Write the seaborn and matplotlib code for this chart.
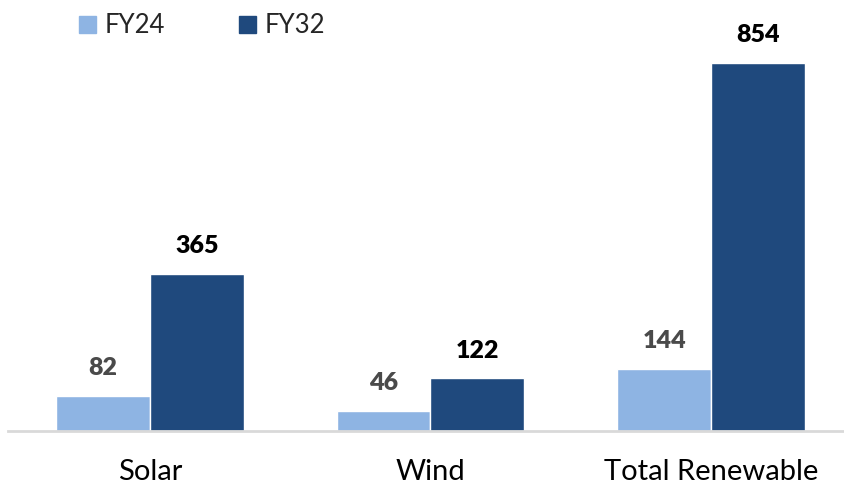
import matplotlib
matplotlib.use("Agg")
import matplotlib.pyplot as plt
import seaborn as sns
import pandas as pd
from matplotlib.patches import Patch

categories = ["Solar", "Wind", "Total Renewable"]
fy24 = [82, 46, 144]
fy32 = [365, 122, 854]
series = ["FY24", "FY32"]
colors = ["#8EB4E3", "#1F497D"]

df = pd.DataFrame({
    "cat": categories * 2,
    "val": fy24 + fy32,
    "series": ["FY24"] * 3 + ["FY32"] * 3,
})

sns.set_theme(style="white")
plt.rcParams["font.family"] = ["Lato", "DejaVu Sans"]

fig = plt.figure(figsize=(8.44, 4.86), dpi=100)
ax = fig.add_axes([8 / 844, 1 - 431 / 486, 1 - 8 / 844, 431 / 486])
sns.barplot(data=df, x="cat", y="val", hue="series", palette=colors,
            width=0.667, saturation=1, ax=ax, legend=False, gap=0)
ax.set_xlim(-0.506, 2.474)
ax.set_ylim(0, 1000)
for s in ["top", "right", "left"]:
    ax.spines[s].set_visible(False)
ax.spines["bottom"].set_color("#d9d9d9")
ax.spines["bottom"].set_linewidth(2)
ax.set_yticks([])
ax.set_xlabel("")
ax.set_ylabel("")
ax.tick_params(axis="x", length=0, labelsize=21, pad=20, colors="black")

label_colors = ["#4a4a4a", "black"]
for cont, lc in zip(ax.containers, label_colors):
    for bar in cont:
        h = bar.get_height()
        ax.annotate(f"{h:.0f}", (bar.get_x() + bar.get_width() / 2, h),
                    xytext=(0, 20), textcoords="offset points",
                    ha="center", va="center", fontsize=18, fontweight="heavy",
                    color=lc)

handles = [Patch(color=c, label=s) for c, s in zip(colors, series)]
fig.legend(handles=handles, loc="upper left", bbox_to_anchor=(0.066, 1.02),
           ncol=2, frameon=False, fontsize=18.5, handlelength=0.65, handleheight=0.65,
           columnspacing=2.9, handletextpad=0.35)

fig.savefig("out.png", dpi=100)
